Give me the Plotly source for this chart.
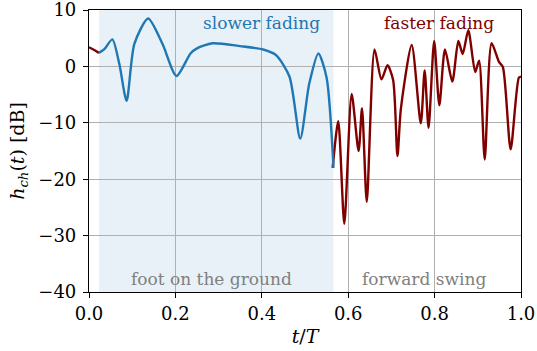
import plotly.graph_objects as go

# ground-contact phase (slower fading), blue
blue_t = [0.023, 0.035, 0.054, 0.07, 0.087, 0.105, 0.137, 0.17, 0.2025, 0.235, 0.25, 0.286,
          0.35, 0.403, 0.433, 0.464, 0.489, 0.51, 0.531, 0.55, 0.566]
blue_v = [2.4, 3.0, 4.8, 0.5, -6.1, 4.0, 8.5, 4.0, -1.7, 2.3, 3.2, 4.1,
          3.6, 3.0, 2.0, -1.8, -12.8, -3.0, 2.3, -2.0, -18.0]

# swing phase (faster fading), dark red
red_t_start = [0.0, 0.012, 0.023]
red_v_start = [3.4, 2.9, 2.4]
red_t = [0.564, 0.577, 0.591, 0.608, 0.624, 0.632, 0.643, 0.661, 0.677, 0.691, 0.704,
         0.714, 0.722, 0.747, 0.768, 0.777, 0.786, 0.799, 0.811, 0.824, 0.841, 0.855,
         0.865, 0.878, 0.894, 0.903, 0.916, 0.932, 0.949, 0.958, 0.976, 0.995, 1.0]
red_v = [-18.0, -9.7, -27.9, -4.9, -15.0, -7.4, -24.0, 3.0, -2.3, 0.2, -2.4,
         -15.9, -7.5, 3.8, -10.1, -0.7, -10.9, 4.5, -6.9, 3.0, -2.7, 4.5,
         2.2, 6.4, -1.0, 1.0, -16.5, 4.1, 0.8, -0.1, -14.7, -2.0, -1.8]

ground_span = [0.023, 0.566]
x_ticks = [0.0, 0.2, 0.4, 0.6, 0.8, 1.0]
x_labels = ["0.0", "0.2", "0.4", "0.6", "0.8", "1.0"]
y_ticks = [10, 0, -10, -20, -30, -40]
y_labels = ["10", "0", "\u221210", "\u221220", "\u221230", "\u221240"]

BLUE = "#1f77b4"
RED = "#800000"
FONT = "DejaVu Serif"

fig = go.Figure()
fig.add_vrect(x0=ground_span[0], x1=ground_span[1], fillcolor="rgba(31,119,180,0.1)",
              line_width=0, layer="below")
fig.add_trace(go.Scatter(x=red_t_start + [None] + red_t, y=red_v_start + [None] + red_v,
                         mode="lines", line=dict(color=RED, width=2.4, shape="spline", smoothing=0.7),
                         connectgaps=False, showlegend=False, hoverinfo="skip"))
fig.add_trace(go.Scatter(x=blue_t, y=blue_v, mode="lines",
                         line=dict(color=BLUE, width=2.4, shape="spline", smoothing=0.7),
                         showlegend=False, hoverinfo="skip"))

fig.add_annotation(x=0.4, y=10, text="slower fading", showarrow=False, yanchor="top",
                   yshift=-1, font=dict(color=BLUE, size=17, family=FONT))
fig.add_annotation(x=0.81, y=10, text="faster fading", showarrow=False, yanchor="top",
                   yshift=-1, font=dict(color=RED, size=17, family=FONT))
fig.add_annotation(x=0.284, y=-40, text="foot on the ground", showarrow=False, yanchor="bottom",
                   yshift=1, font=dict(color="#808080", size=17, family=FONT))
fig.add_annotation(x=0.776, y=-40, text="forward swing", showarrow=False, yanchor="bottom",
                   yshift=1, font=dict(color="#808080", size=17, family=FONT))

axis_common = dict(showgrid=True, gridcolor="#b0b0b0", gridwidth=1, zeroline=False,
                   showline=True, linecolor="black", linewidth=1.2, mirror=True,
                   ticks="outside", ticklen=5, tickcolor="black", automargin=False,
                   ticklabeloverflow="allow",
                   tickfont=dict(size=18, family=FONT, color="black"))
fig.update_xaxes(range=[0, 1], tickvals=x_ticks, ticktext=x_labels,
                 title=dict(text="<i>t</i>/<i>T</i>", font=dict(size=19, family=FONT), standoff=6),
                 **axis_common)
fig.update_yaxes(range=[-40, 10], tickvals=y_ticks, ticktext=y_labels, ticklabelstandoff=3,
                 title=dict(text="<i>h</i><sub><i>ch</i></sub>(<i>t</i>) [dB]",
                            font=dict(size=19, family=FONT), standoff=8),
                 **axis_common)
fig.update_layout(width=537, height=351, margin=dict(l=89, r=16, t=10, b=59),
                  plot_bgcolor="white", paper_bgcolor="white",
                  font=dict(family=FONT, color="black"))
fig.write_html("out.html", config={"displayModeBar": False},
               post_script="document.body.style.margin='0';")
